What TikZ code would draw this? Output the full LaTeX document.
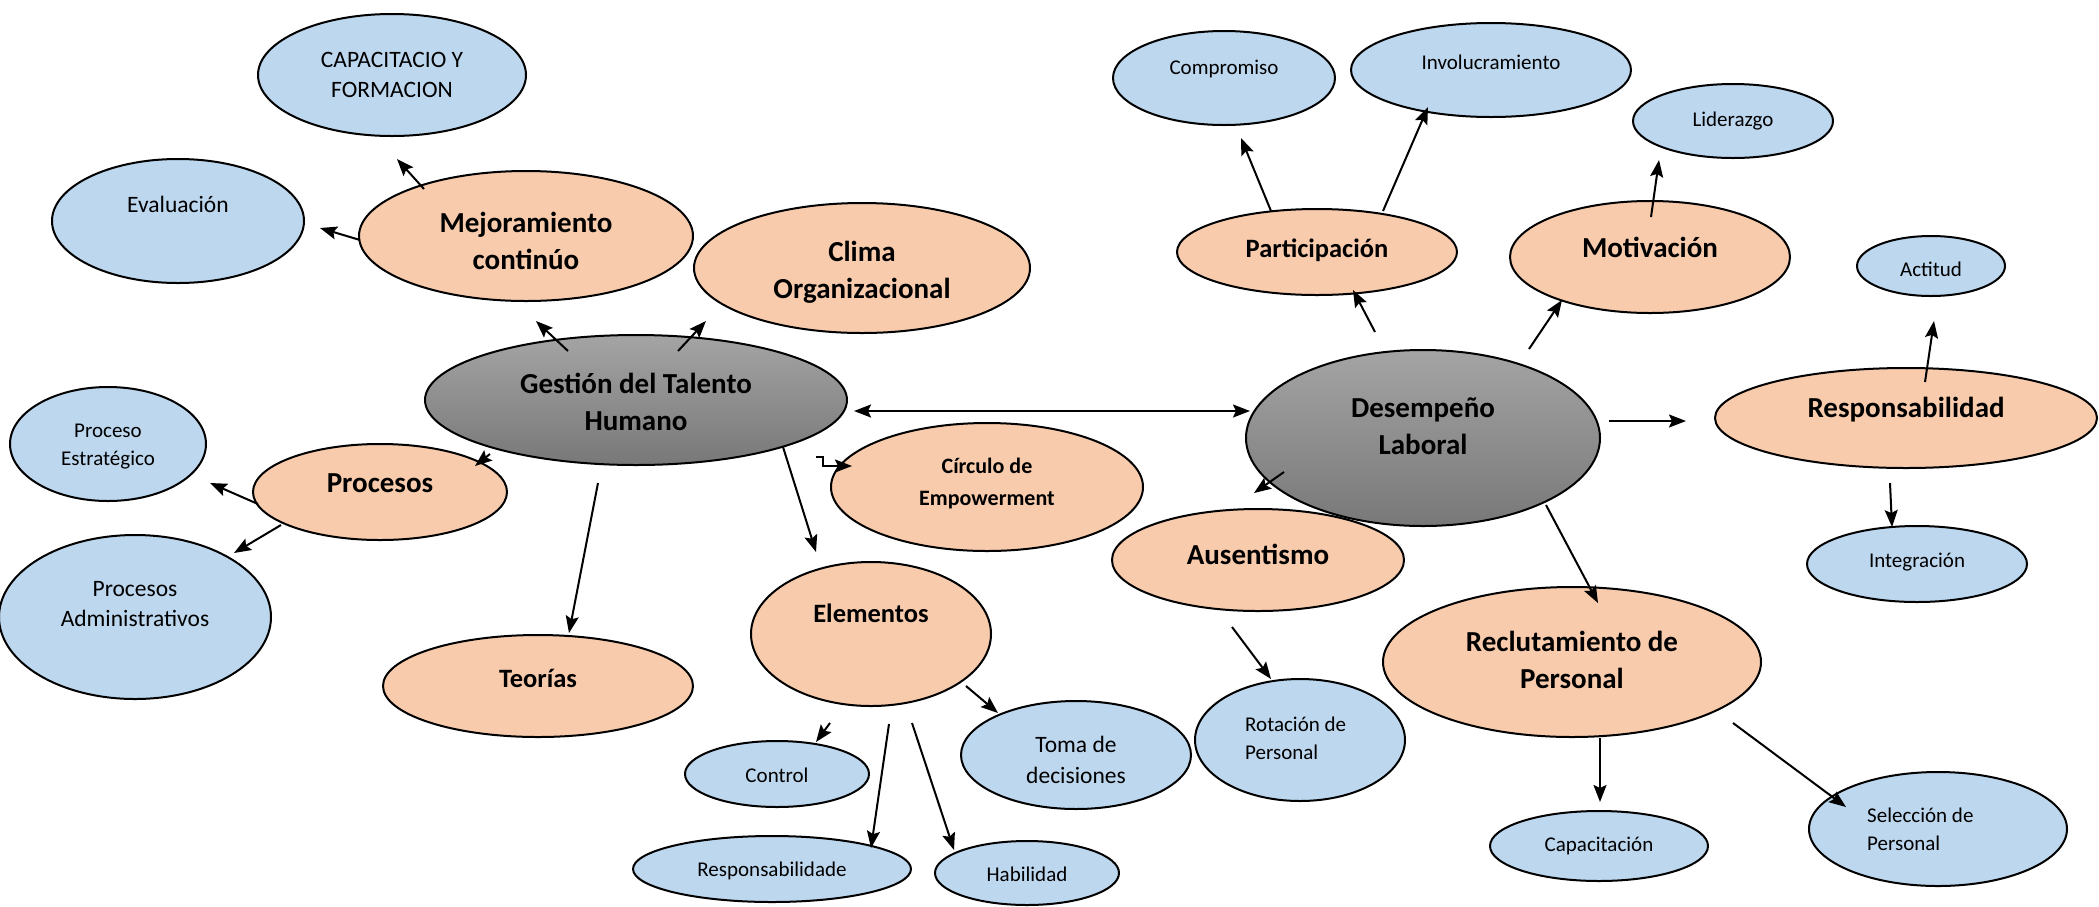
\documentclass[tikz,border=0pt]{standalone}
\usepackage{fontspec}
\setmainfont{Carlito}
\usetikzlibrary{arrows.meta,shapes.geometric}
\definecolor{bluefill}{HTML}{BDD7EE}
\definecolor{orangefill}{HTML}{F8CBAD}
\definecolor{graytop}{HTML}{A4A4A4}
\definecolor{graybot}{HTML}{787878}

\tikzset{
  oval/.style={ellipse, draw=black, line width=2pt, inner sep=0pt},
  blueoval/.style={oval, fill=bluefill},
  orangeoval/.style={oval, fill=orangefill},
  grayoval/.style={oval, top color=graytop, bottom color=graybot},
  small/.style={align=center, inner sep=0pt, font=\fontsize{21}{28}\selectfont},
  medium/.style={align=center, inner sep=0pt, font=\fontsize{23.5}{30.5}\selectfont},
  bigb/.style={align=center, inner sep=0pt, font=\fontsize{29}{37}\selectfont\bfseries},
  midb/.style={align=center, inner sep=0pt, font=\fontsize{26.5}{34}\selectfont\bfseries},
  smallb/.style={align=center, inner sep=0pt, font=\fontsize{22}{32}\selectfont\bfseries},
  arr/.style={line width=2pt, -{Stealth[length=17pt,width=13pt,inset=3pt]}},
  darr/.style={line width=2pt, {Stealth[length=17pt,width=13pt,inset=3pt]}-{Stealth[length=17pt,width=13pt,inset=3pt]}},
}
% ellipse: name, centre, half-width, half-height, style
\newcommand\conceptoval[6]{\node[#6, minimum width=#4*2pt, minimum height=#5*2pt] (#1) at (#2,#3) {};}

\begin{document}
\begin{tikzpicture}[x=1pt,y=-1pt]
\useasboundingbox (0,0) rectangle (2099,906);

% --- central themes
\conceptoval{gth}{636}{400}{211}{65}{grayoval}
\conceptoval{des}{1423}{438}{177}{88}{grayoval}

% --- first-level concepts
\conceptoval{mej}{526}{236}{167}{65}{orangeoval}
\conceptoval{cli}{862}{268}{168}{65}{orangeoval}
\conceptoval{pro}{380}{492}{127}{48}{orangeoval}
\conceptoval{teo}{538}{686}{155}{51}{orangeoval}
\conceptoval{ele}{871}{634}{120}{72}{orangeoval}
\conceptoval{cir}{987}{487}{156}{64}{orangeoval}
\conceptoval{par}{1317}{252}{140}{43}{orangeoval}
\conceptoval{mot}{1650}{257}{140}{56}{orangeoval}
\conceptoval{rsp}{1906}{418}{191}{50}{orangeoval}
\conceptoval{aus}{1258}{560}{146}{51}{orangeoval}
\conceptoval{rec}{1572}{662}{189}{75}{orangeoval}

% --- details
\conceptoval{cap}{392}{75}{134}{61}{blueoval}
\conceptoval{eva}{178}{221}{126}{62}{blueoval}
\conceptoval{pes}{108}{444}{98}{57}{blueoval}
\conceptoval{pad}{135}{617}{136}{82}{blueoval}
\conceptoval{con}{777}{774}{92}{33}{blueoval}
\conceptoval{res}{772}{869}{139}{33}{blueoval}
\conceptoval{hab}{1027}{873}{92}{32}{blueoval}
\conceptoval{tom}{1076}{755}{115}{54}{blueoval}
\conceptoval{rot}{1300}{740}{105}{61}{blueoval}
\conceptoval{cmp}{1224}{78}{111}{47}{blueoval}
\conceptoval{inv}{1491}{70}{140}{47}{blueoval}
\conceptoval{lid}{1733}{121}{100}{37}{blueoval}
\conceptoval{act}{1931}{266}{74}{30}{blueoval}
\conceptoval{itg}{1917}{564}{110}{38}{blueoval}
\conceptoval{cpc}{1599}{846}{109}{35}{blueoval}
\conceptoval{sel}{1938}{829}{129}{57}{blueoval}

% --- labels
\node[bigb] (gth-t) at (636,402) {Gestión del Talento\\Humano};
\node[bigb] (des-t) at (1423,426) {Desempeño\\Laboral};
\node[bigb] (mej-t) at (526,241) {Mejoramiento\\continúo};
\node[bigb] (cli-t) at (862,272) {Clima\\Organizacional};
\node[bigb] (pro-t) at (380,483) {Procesos};
\node[midb] (teo-t) at (538,678) {Teorías};
\node[midb] (ele-t) at (871,613) {Elementos};
\node[smallb] (cir-t) at (987,483) {Círculo de\\Empowerment};
\node[midb] (par-t) at (1317,250) {Participación};
\node[bigb] (mot-t) at (1650,247) {Motivación};
\node[bigb] (rsp-t) at (1906,410) {Responsabilidad};
\node[bigb] (aus-t) at (1258,554) {Ausentismo};
\node[bigb] (rec-t) at (1572,660) {Reclutamiento de\\Personal};

\node[medium] (cap-t) at (392,75) {CAPACITACIO Y\\FORMACION};
\node[medium] (eva-t) at (178,204) {Evaluación};
\node[small] (pes-t) at (108,447) {Proceso\\Estratégico};
\node[medium] (pad-t) at (135,604) {Procesos\\Administrativos};
\node[small] (con-t) at (777,775) {Control};
\node[small] (res-t) at (772,871) {Responsabilidade};
\node[small] (hab-t) at (1027,874) {Habilidad};
\node[medium] (tom-t) at (1076,760) {Toma de\\decisiones};
\node[small, align=left, anchor=west] (rot-t) at (1245,738) {Rotación de\\Personal};
\node[small] (cmp-t) at (1224,69) {Compromiso};
\node[small] (inv-t) at (1491,62) {Involucramiento};
\node[small] (lid-t) at (1733,121) {Liderazgo};
\node[small] (act-t) at (1931,269) {Actitud};
\node[small] (itg-t) at (1917,562) {Integración};
\node[small] (cpc-t) at (1599,846) {Capacitación};
\node[small, align=left, anchor=west] (sel-t) at (1867,829) {Selección de\\Personal};

% --- connector end points
\coordinate (mej-cap-a) at (424,189); \coordinate (mej-cap-b) at (397,159);
\coordinate (mej-eva-a) at (360,240); \coordinate (mej-eva-b) at (320,228);
\coordinate (gth-mej-a) at (568,351); \coordinate (gth-mej-b) at (536,321);
\coordinate (gth-cli-a) at (678,351); \coordinate (gth-cli-b) at (706,321);
\coordinate (gth-des-a) at (854,411); \coordinate (gth-des-b) at (1250,411);
\coordinate (gth-pro-a) at (490,454); \coordinate (gth-pro-b) at (475,466);
\coordinate (pro-pes-a) at (258,504); \coordinate (pro-pes-b) at (210,483);
\coordinate (pro-pad-a) at (281,525); \coordinate (pro-pad-b) at (234,553);
\coordinate (gth-teo-a) at (598,483); \coordinate (gth-teo-b) at (569,633);
\coordinate (gth-ele-a) at (783,447); \coordinate (gth-ele-b) at (816,552);
\coordinate (gth-cir-a) at (816,457); \coordinate (gth-cir-b) at (852,466);
\coordinate (ele-con-a) at (830,723); \coordinate (ele-con-b) at (816,742);
\coordinate (ele-res-a) at (889,724); \coordinate (ele-res-b) at (871,848);
\coordinate (ele-hab-a) at (912,723); \coordinate (ele-hab-b) at (954,850);
\coordinate (ele-tom-a) at (966,686); \coordinate (ele-tom-b) at (998,713);
\coordinate (par-cmp-a) at (1271,211); \coordinate (par-cmp-b) at (1241,138);
\coordinate (par-inv-a) at (1383,211); \coordinate (par-inv-b) at (1428,107);
\coordinate (mot-lid-a) at (1651,217); \coordinate (mot-lid-b) at (1659,160);
\coordinate (des-par-a) at (1375,332); \coordinate (des-par-b) at (1353,290);
\coordinate (des-mot-a) at (1529,349); \coordinate (des-mot-b) at (1562,300);
\coordinate (rsp-act-a) at (1925,382); \coordinate (rsp-act-b) at (1934,321);
\coordinate (des-rsp-a) at (1609,421); \coordinate (des-rsp-b) at (1686,421);
\coordinate (des-aus-a) at (1284,472); \coordinate (des-aus-b) at (1254,493);
\coordinate (aus-rot-a) at (1232,627); \coordinate (aus-rot-b) at (1271,679);
\coordinate (des-rec-a) at (1546,505); \coordinate (des-rec-b) at (1598,603);
\coordinate (rec-cpc-a) at (1600,738); \coordinate (rec-cpc-b) at (1600,802);
\coordinate (rec-sel-a) at (1733,723); \coordinate (rec-sel-b) at (1846,807);
\coordinate (rsp-itg-a) at (1890,483); \coordinate (rsp-itg-b) at (1892,527);

% --- connectors
\draw[arr] (mej-cap-a) -- (mej-cap-b);
\draw[arr] (mej-eva-a) -- (mej-eva-b);
\draw[arr] (gth-mej-a) -- (gth-mej-b);
\draw[arr] (gth-cli-a) -- (gth-cli-b);
\draw[darr] (gth-des-a) -- (gth-des-b);
\draw[arr] (gth-pro-a) -- (gth-pro-b);
\draw[arr] (pro-pes-a) -- (pro-pes-b);
\draw[arr] (pro-pad-a) -- (pro-pad-b);
\draw[arr] (gth-teo-a) -- (gth-teo-b);
\draw[arr] (gth-ele-a) -- (gth-ele-b);
\draw[arr] (gth-cir-a) -- ++(7,0) -- ++(0,9) -- (gth-cir-b);
\draw[arr] (ele-con-a) -- (ele-con-b);
\draw[arr] (ele-res-a) -- (ele-res-b);
\draw[arr] (ele-hab-a) -- (ele-hab-b);
\draw[arr] (ele-tom-a) -- (ele-tom-b);
\draw[arr] (par-cmp-a) -- (par-cmp-b);
\draw[arr] (par-inv-a) -- (par-inv-b);
\draw[arr] (mot-lid-a) -- (mot-lid-b);
\draw[arr] (des-par-a) -- (des-par-b);
\draw[arr] (des-mot-a) -- (des-mot-b);
\draw[arr] (rsp-act-a) -- (rsp-act-b);
\draw[arr] (des-rsp-a) -- (des-rsp-b);
\draw[arr] (des-aus-a) -- (des-aus-b);
\draw[arr] (aus-rot-a) -- (aus-rot-b);
\draw[arr] (des-rec-a) -- (des-rec-b);
\draw[arr] (rec-cpc-a) -- (rec-cpc-b);
\draw[arr] (rec-sel-a) -- (rec-sel-b);
\draw[arr] (rsp-itg-a) -- (rsp-itg-b);
\end{tikzpicture}
\end{document}
